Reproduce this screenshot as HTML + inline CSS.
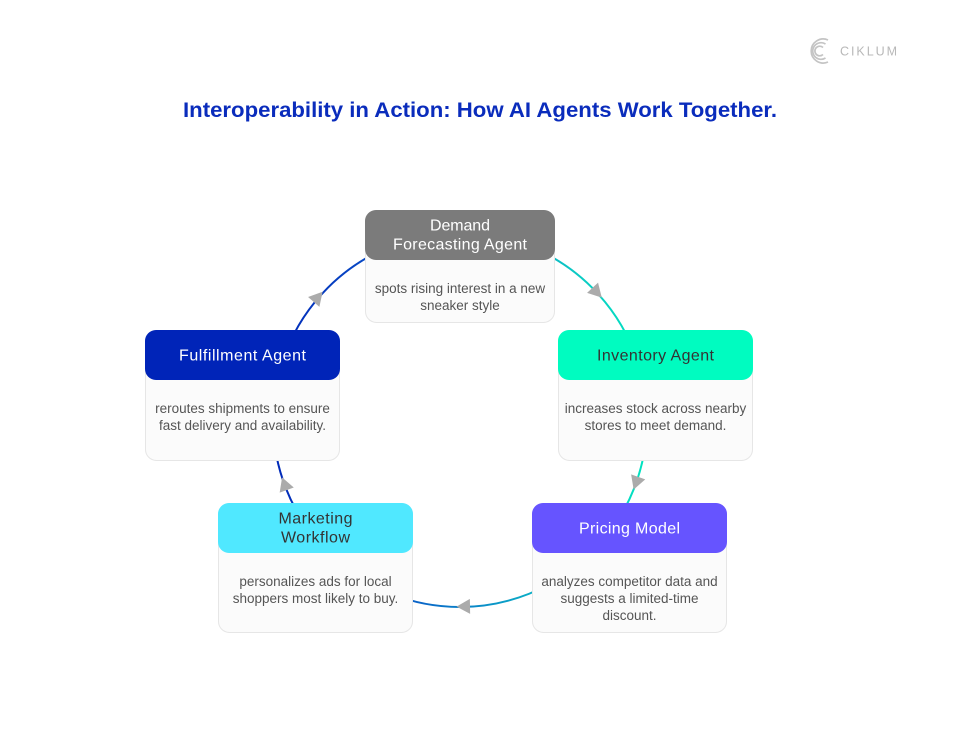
<!DOCTYPE html>
<html>
<head>
<meta charset="utf-8">
<style>
html,body{margin:0;padding:0;background:#fff;}
svg{display:block;}
text{font-family:"Liberation Sans",sans-serif;}
</style>
</head>
<body>
<svg width="960" height="738" viewBox="0 0 960 738" xmlns="http://www.w3.org/2000/svg">
<defs>
<linearGradient id="ring" x1="0" y1="0" x2="1" y2="0">
<stop offset="0" stop-color="#0028b8"/>
<stop offset="0.3" stop-color="#0a50c8"/>
<stop offset="0.55" stop-color="#0a8cc8"/>
<stop offset="0.8" stop-color="#0cc8c4"/>
<stop offset="1" stop-color="#00e4c0"/>
</linearGradient>
</defs>
<rect width="960" height="738" fill="#fff"/>

<!-- logo -->
<g fill="none" stroke="#c4c4c4" stroke-width="1.7">
<path d="M828 40 A12 12 0 1 0 828 62"/>
<path d="M825.5 44 A8.3 8.3 0 1 0 825.5 58"/>
<path d="M823 47.5 A4.8 4.8 0 1 0 823 54.5"/>
</g>
<text x="840" y="55.5" font-size="12.5" fill="#b8b8b8" textLength="57">CIKLUM</text>

<!-- title -->
<text x="183" y="117" font-size="21" font-weight="bold" fill="#0a2cbc" textLength="594" lengthAdjust="spacingAndGlyphs">Interoperability in Action: How AI Agents Work Together.</text>

<!-- ring -->
<circle cx="460" cy="420" r="187" fill="none" stroke="url(#ring)" stroke-width="2"/>

<!-- arrows -->
<g fill="#ababab">
<polygon points="-6.5,-7.5 7,0 -6.5,7.5" transform="translate(597,292.5) rotate(47)"/>
<polygon points="-6.5,-7.5 7,0 -6.5,7.5" transform="translate(636,483) rotate(109.7)"/>
<polygon points="-6.5,-7.5 7,0 -6.5,7.5" transform="translate(463.5,606.5) rotate(179)"/>
<polygon points="-6.5,-7.5 7,0 -6.5,7.5" transform="translate(284.5,484) rotate(250)"/>
<polygon points="-6.5,-7.5 7,0 -6.5,7.5" transform="translate(318,297) rotate(-49)"/>
</g>

<!-- Demand -->
<rect x="365.5" y="210.5" width="189" height="112" rx="11" fill="#fbfbfb" stroke="#e6e6e6"/>
<rect x="365" y="210" width="190" height="50" rx="11" fill="#7b7b7b"/>
<text x="460" y="230.5" font-size="16" fill="#fff" text-anchor="middle" textLength="60">Demand</text>
<text x="460" y="249.5" font-size="16" fill="#fff" text-anchor="middle" textLength="134">Forecasting Agent</text>
<text x="460" y="293" font-size="13.5" fill="#555" text-anchor="middle">spots rising interest in a new</text>
<text x="460" y="310" font-size="13.5" fill="#555" text-anchor="middle">sneaker style</text>

<!-- Inventory -->
<rect x="558.5" y="330.5" width="194" height="130" rx="11" fill="#fbfbfb" stroke="#e6e6e6"/>
<rect x="558" y="330" width="195" height="50" rx="11" fill="#00fcc0"/>
<text x="655.5" y="360.5" font-size="16" fill="#333" text-anchor="middle" textLength="117">Inventory Agent</text>
<text x="655.5" y="413" font-size="13.5" fill="#555" text-anchor="middle">increases stock across nearby</text>
<text x="655.5" y="430" font-size="13.5" fill="#555" text-anchor="middle">stores to meet demand.</text>

<!-- Pricing -->
<rect x="532.5" y="503.5" width="194" height="129" rx="11" fill="#fbfbfb" stroke="#e6e6e6"/>
<rect x="532" y="503" width="195" height="50" rx="11" fill="#6654ff"/>
<text x="629.5" y="533.5" font-size="16" fill="#fff" text-anchor="middle" textLength="101">Pricing Model</text>
<text x="629.5" y="586" font-size="13.5" fill="#555" text-anchor="middle">analyzes competitor data and</text>
<text x="629.5" y="603" font-size="13.5" fill="#555" text-anchor="middle">suggests a limited-time</text>
<text x="629.5" y="620" font-size="13.5" fill="#555" text-anchor="middle">discount.</text>

<!-- Marketing -->
<rect x="218.5" y="503.5" width="194" height="129" rx="11" fill="#fbfbfb" stroke="#e6e6e6"/>
<rect x="218" y="503" width="195" height="50" rx="11" fill="#50e8ff"/>
<text x="315.5" y="523.5" font-size="16" fill="#333" text-anchor="middle" textLength="74">Marketing</text>
<text x="315.5" y="542.5" font-size="16" fill="#333" text-anchor="middle" textLength="69">Workflow</text>
<text x="315.5" y="586" font-size="13.5" fill="#555" text-anchor="middle">personalizes ads for local</text>
<text x="315.5" y="603" font-size="13.5" fill="#555" text-anchor="middle">shoppers most likely to buy.</text>

<!-- Fulfillment -->
<rect x="145.5" y="330.5" width="194" height="130" rx="11" fill="#fbfbfb" stroke="#e6e6e6"/>
<rect x="145" y="330" width="195" height="50" rx="11" fill="#0024b8"/>
<text x="242.5" y="360.5" font-size="16" fill="#fff" text-anchor="middle" textLength="127">Fulfillment Agent</text>
<text x="242.5" y="413" font-size="13.5" fill="#555" text-anchor="middle">reroutes shipments to ensure</text>
<text x="242.5" y="430" font-size="13.5" fill="#555" text-anchor="middle">fast delivery and availability.</text>
</svg>
</body>
</html>
